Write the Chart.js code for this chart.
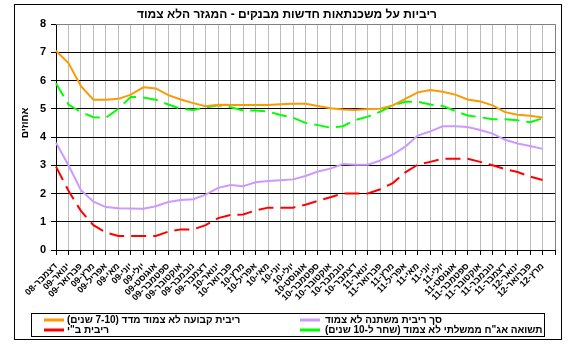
<!DOCTYPE html>
<html><head><meta charset="utf-8">
<script src="https://cdn.jsdelivr.net/npm/chart.js@4/dist/chart.umd.min.js"></script>
<style>html,body{margin:0;padding:0;background:#fff;} canvas{direction:rtl;background:#fff;}</style>
</head><body>
<canvas id="c" width="569" height="355" dir="rtl"></canvas>
<script>
const chartTitle = 'ריביות על משכנתאות חדשות מבנקים - המגזר הלא צמוד';
const yAxisTitle = 'אחוזים';
const months = [
 'דצמבר-08',
 'ינואר-09','פברואר-09','מרץ-09','אפריל-09','מאי-09','יוני-09','יולי-09','אוגוסט-09','ספטמבר-09','אוקטובר-09','נובמבר-09','דצמבר-09',
 'ינואר-10','פברואר-10','מרץ-10','אפריל-10','מאי-10','יוני-10','יולי-10','אוגוסט-10','ספטמבר-10','אוקטובר-10','נובמבר-10','דצמבר-10',
 'ינואר-11','פברואר-11','מרץ-11','אפריל-11','מאי-11','יוני-11','יולי-11','אוגוסט-11','ספטמבר-11','אוקטובר-11','נובמבר-11','דצמבר-11',
 'ינואר-12','פברואר-12','מרץ-12',
 ''
];
const yTicks = [0,1,2,3,4,5,6,7,8];

const fixedRate = [7.05,6.62,5.80,5.32,5.32,5.35,5.50,5.76,5.72,5.48,5.33,5.20,5.09,5.14,5.13,5.13,5.13,5.13,5.16,5.18,
                   5.18,5.10,5.02,4.97,4.96,4.99,5.00,5.12,5.35,5.58,5.66,5.60,5.50,5.33,5.26,5.12,4.88,4.79,4.75,4.69];
const variableRate = [3.80,3.00,2.12,1.71,1.52,1.48,1.47,1.46,1.55,1.70,1.77,1.80,1.96,2.20,2.30,2.26,2.40,2.44,2.47,2.50,
                      2.62,2.78,2.88,3.04,3.02,3.02,3.17,3.38,3.66,4.05,4.20,4.38,4.38,4.35,4.25,4.12,3.90,3.77,3.68,3.58];
const boiRate = [2.95,2.10,1.38,0.88,0.62,0.50,0.50,0.50,0.50,0.65,0.73,0.73,0.88,1.13,1.24,1.26,1.40,1.50,1.50,1.50,
                 1.60,1.74,1.87,2.00,2.00,2.00,2.15,2.37,2.75,3.02,3.12,3.23,3.23,3.23,3.12,3.00,2.86,2.76,2.60,2.48];
const bondYield = [5.90,5.15,4.88,4.70,4.68,5.00,5.42,5.40,5.32,5.15,5.00,4.96,5.05,5.12,5.05,4.94,4.94,4.90,4.78,4.68,
                   4.50,4.42,4.33,4.38,4.60,4.72,4.90,5.12,5.25,5.25,5.15,5.10,4.92,4.76,4.70,4.63,4.63,4.59,4.52,4.66];

const seriesNames = ['ריבית קבועה לא צמוד מדד (7-10 שנים)','סך ריבית משתנה לא צמוד','ריבית ב"י','תשואה אג"ח ממשלתי לא צמוד (שחר ל-10 שנים)'];
const FONT = "'Liberation Sans', Arial, 'DejaVu Sans', sans-serif";

const decor = {
  id: 'decor',
  afterDraw(chart) {
    const ctx = chart.ctx, a = chart.chartArea;
    ctx.save();
    ctx.strokeStyle = '#808080'; ctx.lineWidth = 1; ctx.setLineDash([]);
    ctx.beginPath();
    ctx.moveTo(a.left, a.top + 0.5); ctx.lineTo(a.right + 0.5, a.top + 0.5); ctx.lineTo(a.right + 0.5, a.bottom);
    ctx.stroke();
    ctx.strokeStyle = '#000';
    ctx.strokeRect(14.5, 4.5, 547, 335);
    ctx.fillStyle = '#000';
    ctx.font = 'bold 12px ' + FONT;
    ctx.textAlign = 'center'; ctx.textBaseline = 'middle';
    ctx.fillText(chartTitle, 287, 15);
    ctx.save();
    ctx.translate(25, 123); ctx.rotate(-Math.PI / 2);
    ctx.font = 'bold 10px ' + FONT;
    ctx.fillText(yAxisTitle, 0, 0);
    ctx.restore();
    ctx.strokeRect(31.5, 313.5, 513, 23);
    ctx.font = 'bold 10px ' + FONT;
    ctx.textAlign = 'left';
    const cols = [[44, 67], [300, 325]];
    const rows = [320, 330];
    chart.data.datasets.forEach((ds, i) => {
      const c = cols[i % 2], y = rows[Math.floor(i / 2)];
      ctx.strokeStyle = ds.borderColor; ctx.lineWidth = 3; ctx.setLineDash([]);
      ctx.beginPath(); ctx.moveTo(c[0], y); ctx.lineTo(c[0] + 20, y); ctx.stroke();
      ctx.fillStyle = '#000';
      ctx.fillText(ds.label, c[1], y);
    });
    ctx.restore();
  }
};

new Chart(document.getElementById('c'), {
  type: 'line',
  data: {
    labels: months,
    datasets: [
      {label: seriesNames[0], data: fixedRate, borderColor: '#FF9900', borderWidth: 2},
      {label: seriesNames[1], data: variableRate, borderColor: '#CC99FF', borderWidth: 2},
      {label: seriesNames[2], data: boiRate, borderColor: '#FF0000', borderWidth: 2, borderDash: [15, 7]},
      {label: seriesNames[3], data: bondYield, borderColor: '#00FF00', borderWidth: 2, borderDash: [15, 7]}
    ]
  },
  options: {
    responsive: false,
    animation: false,
    events: [],
    layout: {padding: {top: 24, right: 14, bottom: 0, left: 0}},
    elements: {point: {radius: 0}, line: {tension: 0}},
    plugins: {legend: {display: false}, tooltip: {enabled: false}},
    scales: {
      x: {
        offset: false,
        grid: {color: '#BDBDBD', lineWidth: 1, tickLength: 5, tickColor: '#000000'},
        border: {color: '#000', width: 1},
        ticks: {autoSkip: false, maxRotation: 45, minRotation: 45, padding: 6, color: '#000', font: {family: FONT, size: 9, weight: 'bold'}},
        afterFit(s) { s.height = 105; }
      },
      y: {
        min: 0, max: 8,
        afterBuildTicks(s) { s.ticks = yTicks.map(v => ({value: v})); },
        grid: {color: '#000', lineWidth: 1, tickLength: 5},
        border: {color: '#000', width: 1},
        ticks: {padding: 5, color: '#000', font: {family: FONT, size: 11, weight: 'bold'}},
        afterFit(s) { s.width = 56; }
      }
    }
  },
  plugins: [decor]
});
</script>
</body></html>
